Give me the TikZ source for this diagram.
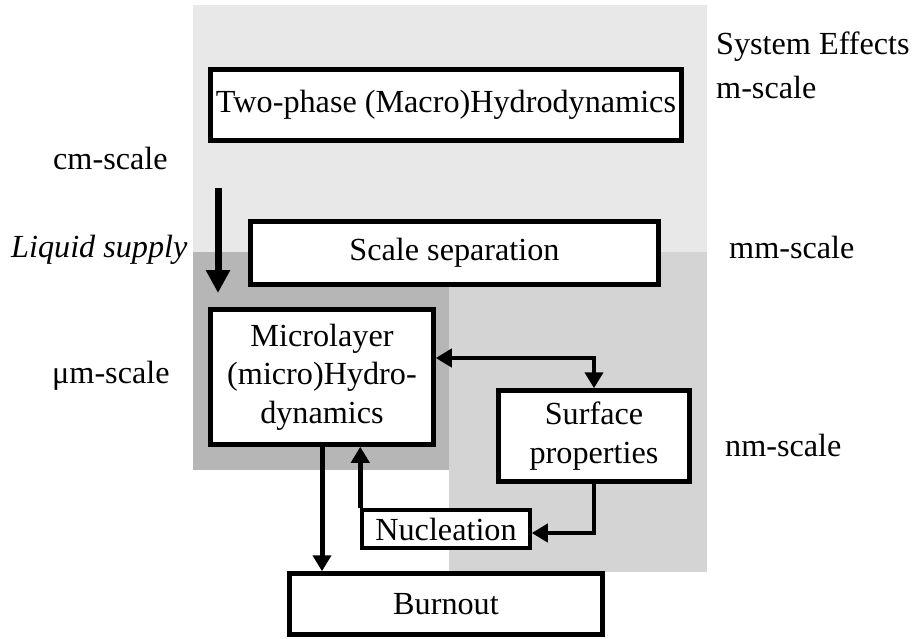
\documentclass[tikz,border=0pt]{standalone}
\usepackage{fontspec}
\setmainfont{Liberation Serif}
\usetikzlibrary{arrows.meta}
\definecolor{lightbg}{HTML}{E8E8E8}
\definecolor{midbg}{HTML}{D4D4D4}
\definecolor{darkbg}{HTML}{B6B6B6}
\begin{document}
\begin{tikzpicture}[x=1pt,y=-1pt,
  txt/.style={font=\fontsize{32.2}{38.5}\selectfont},
  box/.style={txt,draw=black,line width=4.5pt,fill=white,inner sep=0pt,align=center},
  lab/.style={txt,inner sep=0pt,anchor=base west},
  conn/.style={line width=5pt,-{Triangle[length=16pt,width=18pt]}}]
\useasboundingbox (0,0) rectangle (913,638);
% backgrounds
\fill[lightbg] (193,5) rectangle (707,252);
\fill[darkbg] (193,252) rectangle (449,470);
\fill[midbg] (449,252) rectangle (707,572);
% boxes
\node[box,minimum width=471pt,minimum height=71pt] (TP) at (446,105) {Two-phase (Macro)Hydrodynamics};
\node[box,minimum width=408pt,minimum height=63pt] (SS) at (454.5,253) {Scale separation};
\node[box,minimum width=223pt,minimum height=135pt] (MH) at (322,377) {Microlayer\\(micro)Hydro-\\dynamics};
\node[box,minimum width=191pt,minimum height=91pt] (SP) at (594,436) {Surface\\properties};
\node[box,line width=3.5pt,minimum width=168pt,minimum height=38pt] (NU) at (446,529) {Nucleation};
\node[box,minimum width=313pt,minimum height=61pt] (BO) at (446,604) {Burnout};
% labels
\node[lab] (se) at (716,54) {System Effects};
\node[lab] (ms) at (716,98) {m-scale};
\node[lab] (mms) at (729,258) {mm-scale};
\node[lab] (nms) at (725,456) {nm-scale};
\node[lab] (cms) at (53,169) {cm-scale};
\node[lab,font=\fontsize{32.2}{38.5}\selectfont\itshape] (ls) at (11,257) {Liquid supply};
\node[lab] (ums) at (52,383) {μm-scale};
% connectors
\coordinate (lsA) at (218,188);
\coordinate (lsB) at (218,293);
\draw[line width=7pt,-{Triangle[length=23pt,width=23pt]}] (lsA) -- (lsB);
\draw[line width=4.5pt,{Triangle[length=16pt,width=18pt]}-{Triangle[length=16pt,width=18pt]}] ([yshift=19pt]MH.east) -| (SP.north);
\draw[conn] (MH.south) -- (MH.south |- BO.north);
\draw[conn] (NU.north west) -- (NU.north west |- MH.south);
\draw[conn,line width=4.5pt] (SP.south) |- ([yshift=-4pt]NU.east);
\end{tikzpicture}
\end{document}
